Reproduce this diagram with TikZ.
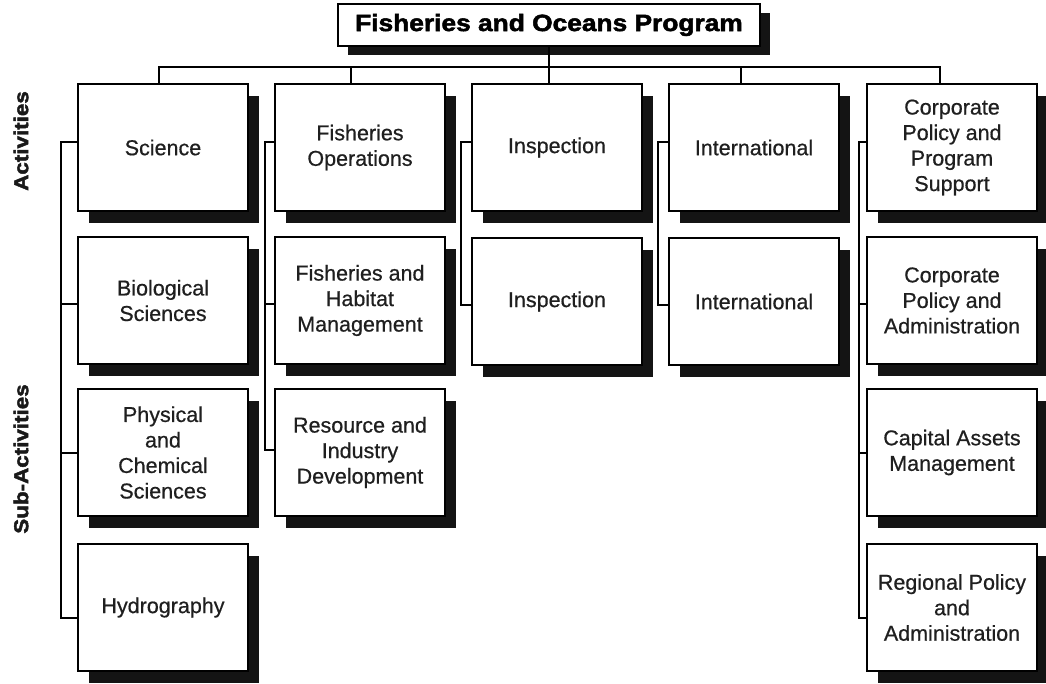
\documentclass[tikz,border=0pt]{standalone}
\usepackage{fontspec}
\setmainfont{Liberation Sans}[FakeBold=0.6]
\newfontfamily\hvyfont[FakeStretch=1.12,FakeBold=2.2]{Liberation Sans}
\usetikzlibrary{shadows}
\tikzset{
  box/.style={draw, line width=2pt, fill=white, minimum width=170pt, minimum height=127pt,
    inner sep=2pt, anchor=north west, align=center,
    font=\fontsize{21.5}{25.5}\selectfont, text=black!88,
    drop shadow={shadow xshift=11pt, shadow yshift=-12pt, fill=black!92, opacity=1}},
  titlebox/.style={draw, line width=2pt, fill=white, minimum width=422pt, minimum height=42pt,
    inner sep=2pt, font=\hvyfont\bfseries\fontsize{23.5}{28}\selectfont,
    drop shadow={shadow xshift=10pt, shadow yshift=-9pt, fill=black!92, opacity=1}},
  sidelabel/.style={rotate=90, font=\hvyfont\bfseries\fontsize{20}{24}\selectfont, text=black!90},
  conn/.style={line width=2pt, black}
}
\begin{document}
\begin{tikzpicture}[x=1pt,y=-1pt]
\useasboundingbox[fill=white] (0,0) rectangle (1046,683);

% title
\node[titlebox] (title) at (549,25) {Fisheries and Oceans Program};

% side labels
\node[sidelabel] (lact) at (21,141) {Activities};
\node[sidelabel] (lsub) at (21,459) {Sub-Activities};

% column 1
\node[box] (a1)  at (77,83)  {Science};
\node[box] (s11) at (77,236) {Biological\\Sciences};
\node[box] (s12) at (77,388) {Physical\\and\\Chemical\\Sciences};
\node[box] (s13) at (77,543) {Hydrography};

% column 2
\node[box] (a2)  at (274,83)  {Fisheries\\Operations};
\node[box] (s21) at (274,236) {Fisheries and\\Habitat\\Management};
\node[box] (s22) at (274,388) {Resource and\\Industry\\Development};

% column 3
\node[box] (a3)  at (471,83)  {Inspection};
\node[box] (s31) at (471,237) {Inspection};

% column 4
\node[box] (a4)  at (668,83)  {International};
\node[box] (s41) at (668,237) {International};

% column 5
\node[box] (a5)  at (866,83)  {Corporate\\Policy and\\Program\\Support};
\node[box] (s51) at (866,236) {Corporate\\Policy and\\Administration};
\node[box] (s52) at (866,388) {Capital Assets\\Management};
\node[box] (s53) at (866,543) {Regional Policy\\and\\Administration};

% bus
\coordinate (bus) at (549,67);
\draw[conn] (title.south) -- (title.south |- a3.north);
\draw[conn] ([xshift=-4pt]a1.north) |- (bus) -| ([xshift=-12pt]a5.north);
\draw[conn] ([xshift=-9pt]a2.north) -- ([xshift=-9pt]a2.north |- bus);
\draw[conn] ([xshift=-13pt]a4.north) -- ([xshift=-13pt]a4.north |- bus);

% feeders column 1
\draw[conn] ([yshift=6pt]a1.west) -- ++(-16pt,0) |- ([yshift=-10pt]s13.west);
\draw[conn] ([yshift=-3pt]s11.west) -- ++(-16pt,0);
\draw[conn] (s12.west) -- ++(-16pt,0);

% feeders column 2
\draw[conn] ([yshift=6pt]a2.west) -- ++(-9pt,0) |- ([yshift=3pt]s22.west);
\draw[conn] ([yshift=-3pt]s21.west) -- ++(-9pt,0);

% feeders column 3
\draw[conn] ([yshift=6pt]a3.west) -- ++(-10pt,0) |- ([yshift=-3pt]s31.west);

% feeders column 4
\draw[conn] ([yshift=6pt]a4.west) -- ++(-10pt,0) |- ([yshift=-3pt]s41.west);

% feeders column 5
\draw[conn] ([yshift=6pt]a5.west) -- ++(-7pt,0) |- ([yshift=-10pt]s53.west);
\draw[conn] ([yshift=-3pt]s51.west) -- ++(-7pt,0);
\draw[conn] (s52.west) -- ++(-7pt,0);
\end{tikzpicture}
\end{document}
